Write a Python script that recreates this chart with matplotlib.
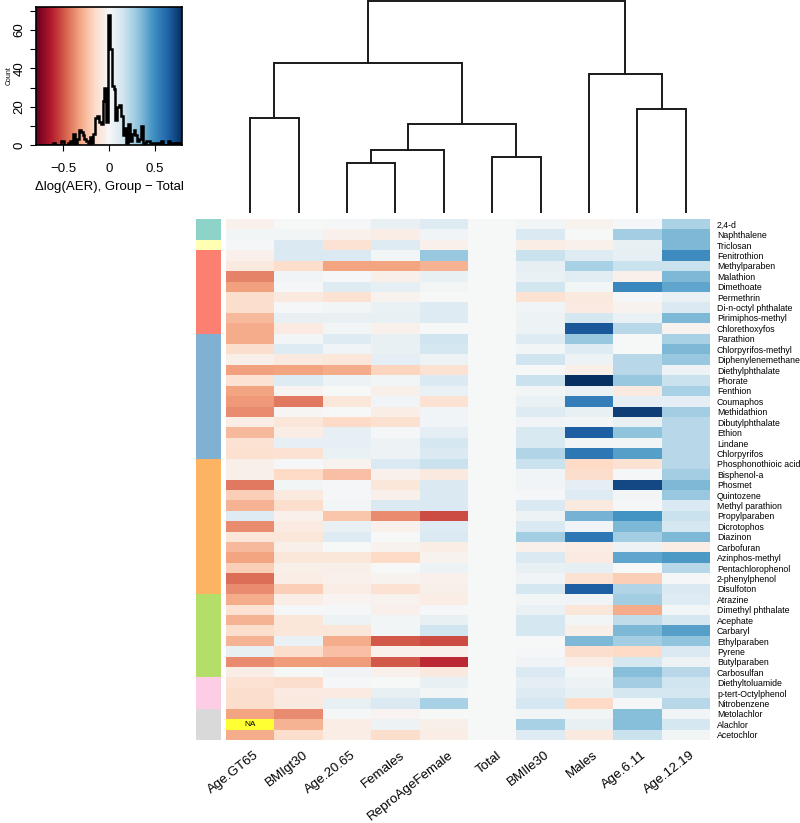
import numpy as np
import matplotlib.pyplot as plt
from matplotlib.transforms import blended_transform_factory, offset_copy

plt.rcParams['font.family'] = ['Liberation Sans', 'DejaVu Sans']

# column groups (already in dendrogram order)
groups = ['Age.GT65', 'BMIgt30', 'Age.20.65', 'Females', 'ReproAgeFemale',
          'Total', 'BMIle30', 'Males', 'Age.6.11', 'Age.12.19']

chemicals = ['2,4-d', 'Naphthalene', 'Triclosan', 'Fenitrothion', 'Methylparaben',
             'Malathion', 'Dimethoate', 'Permethrin', 'Di-n-octyl phthalate',
             'Pirimiphos-methyl', 'Chlorethoxyfos', 'Parathion', 'Chlorpyrifos-methyl',
             'Diphenylenemethane', 'Diethylphthalate', 'Phorate', 'Fenthion', 'Coumaphos',
             'Methidathion', 'Dibutylphthalate', 'Ethion', 'Lindane', 'Chlorpyrifos',
             'Phosphonothioic acid', 'Bisphenol-a', 'Phosmet', 'Quintozene',
             'Methyl parathion', 'Propylparaben', 'Dicrotophos', 'Diazinon', 'Carbofuran',
             'Azinphos-methyl', 'Pentachlorophenol', '2-phenylphenol', 'Disulfoton',
             'Atrazine', 'Dimethyl phthalate', 'Acephate', 'Carbaryl', 'Ethylparaben',
             'Pyrene', 'Butylparaben', 'Carbosulfan', 'Diethyltoluamide',
             'p-tert-Octylphenol', 'Nitrobenzene', 'Metolachlor', 'Alachlor', 'Acetochlor']

# chemical class of each row (index into class_colors)
row_class = [0, 0, 1, 2, 2, 2, 2, 2, 2, 2, 2,
             3, 3, 3, 3, 3, 3, 3, 3, 3, 3, 3, 3,
             4, 4, 4, 4, 4, 4, 4, 4, 4, 4, 4, 4, 4,
             5, 5, 5, 5, 5, 5, 5, 5,
             6, 6, 6,
             7, 7, 7]
class_colors = ['#8DD3C7', '#FFFFB3', '#FB8072', '#80B1D3',
                '#FDB462', '#B3DE69', '#FCCDE5', '#D9D9D9']

# delta log(AER), group - total (rows = chemicals, cols = groups)
nan = np.nan
delta = np.array([
    [-0.04, 0.00, 0.01, 0.06, 0.10, 0, 0.02, -0.03, 0.01, 0.25],
    [0.02, 0.02, -0.04, -0.06, 0.03, 0, 0.12, 0.00, 0.28, 0.36],
    [0.01, 0.12, -0.12, 0.10, -0.04, 0, -0.06, -0.04, 0.06, 0.36],
    [-0.04, 0.12, 0.12, 0.02, 0.30, 0, 0.18, 0.10, 0.07, 0.50],
    [-0.08, -0.15, -0.32, -0.32, -0.28, 0, 0.07, 0.26, 0.18, 0.18],
    [-0.40, 0.03, 0.01, -0.05, 0.06, 0, 0.05, 0.09, -0.04, 0.36],
    [-0.33, 0.01, 0.10, 0.07, 0.02, 0, 0.15, 0.02, 0.52, 0.42],
    [-0.14, -0.08, -0.12, -0.03, 0.00, 0, -0.12, -0.08, 0.01, 0.05],
    [-0.14, 0.01, 0.02, 0.05, 0.10, 0, 0.03, -0.07, -0.03, 0.12],
    [-0.26, 0.06, 0.06, 0.06, 0.10, 0, 0.04, 0.14, 0.05, 0.36],
    [-0.30, -0.07, 0.02, -0.04, 0.00, 0, 0.04, 0.68, 0.22, -0.03],
    [-0.30, 0.02, 0.10, 0.06, 0.16, 0, 0.10, 0.30, 0.00, 0.26],
    [-0.14, 0.10, 0.03, 0.06, 0.14, 0, 0.02, 0.10, 0.00, 0.36],
    [-0.05, -0.08, -0.10, 0.08, 0.04, 0, 0.16, 0.04, 0.22, 0.30],
    [-0.33, -0.32, -0.30, -0.18, -0.12, 0, 0.00, -0.05, 0.22, 0.04],
    [-0.12, 0.10, 0.04, 0.02, 0.12, 0, 0.18, 0.80, 0.30, 0.18],
    [-0.32, -0.02, 0.00, -0.05, 0.05, 0, 0.02, 0.05, -0.08, 0.26],
    [-0.35, -0.42, -0.10, 0.03, -0.12, 0, 0.05, 0.55, 0.08, 0.08],
    [-0.38, -0.01, 0.00, -0.06, 0.03, 0, 0.10, 0.06, 0.75, 0.28],
    [-0.06, -0.10, -0.16, -0.13, 0.03, 0, 0.03, 0.02, 0.06, 0.22],
    [-0.26, -0.06, 0.07, 0.01, 0.08, 0, 0.13, 0.66, 0.32, 0.22],
    [-0.12, 0.07, 0.07, 0.04, 0.14, 0, 0.13, 0.02, 0.02, 0.22],
    [-0.13, -0.12, 0.05, 0.04, 0.12, 0, 0.24, 0.58, 0.44, 0.22],
    [-0.05, 0.01, -0.03, 0.12, 0.18, 0, 0.18, -0.16, -0.12, 0.22],
    [-0.05, -0.16, -0.24, -0.04, -0.08, 0, 0.03, -0.14, 0.01, 0.28],
    [-0.42, 0.02, 0.01, -0.10, 0.12, 0, 0.03, 0.08, 0.72, 0.36],
    [-0.20, -0.08, 0.01, -0.04, 0.12, 0, 0.01, 0.10, 0.02, 0.30],
    [-0.28, -0.14, 0.02, 0.12, 0.12, 0, 0.12, -0.08, 0.01, 0.12],
    [0.10, -0.04, -0.22, -0.38, -0.52, 0, 0.04, 0.38, 0.48, 0.18],
    [-0.38, -0.07, 0.06, -0.04, 0.10, 0, 0.12, 0.03, 0.36, 0.14],
    [-0.10, -0.10, 0.10, 0.00, 0.12, 0, 0.28, 0.58, 0.28, 0.36],
    [-0.26, -0.05, 0.00, -0.03, -0.06, 0, -0.04, -0.06, 0.04, -0.06],
    [-0.32, -0.10, -0.10, -0.16, -0.03, 0, 0.12, -0.07, 0.42, 0.46],
    [-0.20, -0.05, -0.05, 0.00, 0.04, 0, 0.06, 0.07, 0.00, 0.22],
    [-0.45, -0.06, -0.04, -0.03, -0.04, 0, 0.03, -0.12, -0.20, 0.01],
    [-0.38, -0.20, -0.06, -0.12, -0.05, 0, 0.14, 0.66, 0.24, 0.12],
    [-0.30, -0.06, -0.02, -0.03, -0.06, 0, 0.02, 0.03, 0.28, 0.10],
    [-0.12, 0.01, 0.01, -0.04, 0.01, 0, 0.05, -0.10, -0.30, 0.02],
    [-0.28, -0.10, 0.04, 0.02, 0.06, 0, 0.14, 0.02, 0.20, 0.14],
    [-0.14, -0.10, -0.10, 0.02, 0.16, 0, 0.14, -0.05, 0.36, 0.44],
    [-0.28, 0.05, -0.30, -0.50, -0.52, 0, 0.00, 0.36, 0.28, 0.32],
    [0.06, -0.14, -0.24, -0.04, -0.04, 0, 0.01, -0.14, -0.16, 0.12],
    [-0.38, -0.34, -0.34, -0.50, -0.60, 0, 0.03, -0.06, 0.14, 0.04],
    [-0.06, 0.00, 0.03, -0.04, -0.08, 0, 0.12, 0.02, 0.34, 0.22],
    [-0.12, -0.14, 0.01, 0.00, 0.06, 0, 0.08, 0.04, 0.28, 0.16],
    [-0.14, -0.07, -0.07, 0.06, 0.02, 0, 0.10, 0.06, 0.14, 0.14],
    [-0.14, -0.08, 0.06, 0.12, 0.26, 0, 0.14, -0.16, 0.01, 0.22],
    [-0.32, -0.38, 0.01, -0.02, 0.00, 0, 0.02, 0.02, 0.34, 0.03],
    [nan, -0.28, -0.06, 0.04, -0.05, 0, 0.26, 0.06, 0.34, 0.14],
    [-0.30, -0.14, -0.06, -0.14, -0.06, 0, 0.10, -0.08, 0.18, 0.02],
])

# column dendrogram: (left child, right child, height); ints refer to earlier merges
merges = [
    ('Age.GT65', 'BMIgt30', 0.94),
    ('Age.20.65', 'Females', 0.49),
    (1, 'ReproAgeFemale', 0.62),
    ('Total', 'BMIle30', 0.55),
    (2, 3, 0.88),
    (0, 4, 1.49),
    ('Age.6.11', 'Age.12.19', 1.03),
    ('Males', 6, 1.38),
    (5, 7, 2.11),
]

vmin, vmax = -0.8, 0.8
cmap = plt.get_cmap('RdBu').copy()
cmap.set_bad('#FFFF33')

fig = plt.figure(figsize=(8, 8.23), dpi=100)
W, H = 800, 823


def frac(x0, y0, x1, y1):
    return [x0 / W, 1 - y1 / H, (x1 - x0) / W, (y1 - y0) / H]


# ---------------- heatmap ----------------
ax = fig.add_axes(frac(226, 219, 710, 740))
masked = np.ma.masked_invalid(delta)
ax.pcolormesh(np.arange(len(groups) + 1), np.arange(len(chemicals) + 1), masked,
              cmap=cmap, vmin=vmin, vmax=vmax)
ax.set_xlim(0, len(groups))
ax.set_ylim(len(chemicals), 0)
for r, c in zip(*np.where(np.isnan(delta))):
    ax.text(c + 0.5, r + 0.55, 'NA', ha='center', va='center', fontsize=6)

# column labels, rotated below the heatmap
ax.set_xticks([])
lab_tr = offset_copy(blended_transform_factory(ax.transData, ax.transAxes),
                     fig=fig, x=4, y=-9, units='dots')
for i, g in enumerate(groups):
    ax.text(i + 0.5, 0, g, transform=lab_tr, rotation=38, rotation_mode='anchor',
            ha='right', va='top', fontsize=9.6)

ax.yaxis.tick_right()
ax.set_yticks(np.arange(len(chemicals)) + 0.5)
ax.set_yticklabels(chemicals, fontsize=6.3)
ax.tick_params(axis='y', length=0, pad=5)
for s in ax.spines.values():
    s.set_visible(False)

# ---------------- row side colours ----------------
ax_side = fig.add_axes(frac(196, 219, 221, 740))
side = np.array(class_colors)[row_class]
for i, col in enumerate(side):
    ax_side.axhspan(i, i + 1, color=col, lw=0)
ax_side.set_ylim(len(chemicals), 0)
ax_side.set_xlim(0, 1)
ax_side.axis('off')

# ---------------- column dendrogram ----------------
ax_d = fig.add_axes(frac(226, 1, 710, 212))
pos = {g: (i + 0.5, 0.0) for i, g in enumerate(groups)}
for k, (a, b, h) in enumerate(merges):
    xa, ya = pos[a]
    xb, yb = pos[b]
    ax_d.plot([xa, xa, xb, xb], [ya, h, h, yb], color='#1a1a1a', lw=1.4,
              solid_joinstyle='miter', clip_on=False)
    pos[k] = ((xa + xb) / 2, h)
ax_d.set_xlim(0, len(groups))
ax_d.set_ylim(0, merges[-1][2])
ax_d.axis('off')

# ---------------- colour key with histogram ----------------
ax_k = fig.add_axes(frac(36, 7, 182, 145))
grad = np.linspace(vmin, vmax, 256).reshape(1, -1)
ax_k.imshow(grad, cmap=cmap, vmin=vmin, vmax=vmax, aspect='auto',
            extent=[vmin, vmax, 0, 72], origin='lower')
vals = delta[np.isfinite(delta)]
edges = (np.arange(82) - 40.5) * 0.02
counts, _ = np.histogram(vals, bins=edges)
ax_k.stairs(counts, edges, color='black', lw=1.8)
ax_k.set_xlim(vmin, vmax)
ax_k.set_ylim(0, 72)
ax_k.set_xticks([-0.5, 0, 0.5])
ax_k.set_xticklabels(['\u22120.5', '0', '0.5'], fontsize=9.5)
ax_k.set_yticks(np.arange(0, 71, 10))
ax_k.set_yticklabels([str(t) if t % 20 == 0 else '' for t in range(0, 71, 10)],
                     fontsize=9.5, rotation=90, va='center')
ax_k.tick_params(length=4, width=0.8)
ax_k.tick_params(axis='x', pad=9)
ax_k.set_xlabel('\u0394log(AER), Group \u2212 Total', fontsize=9.5, labelpad=4)
ax_k.set_ylabel('Count', fontsize=5, labelpad=1)
for s in ax_k.spines.values():
    s.set_linewidth(1.2)

fig.savefig('out.png', dpi=100)
